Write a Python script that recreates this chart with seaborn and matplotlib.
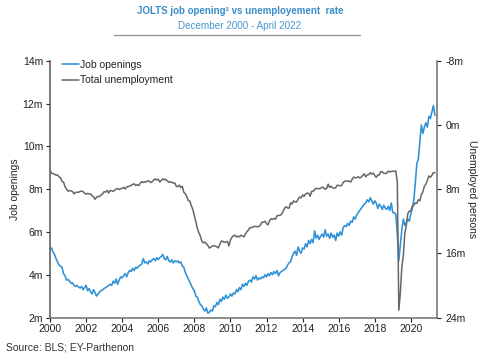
import matplotlib
matplotlib.use("Agg")
import matplotlib.pyplot as plt
import seaborn as sns
import numpy as np
import pandas as pd

# Job openings (millions), monthly Dec 2000 -> Apr 2022
job_openings = [
    5.2,
    5.25, 5.05, 4.95, 4.75, 4.6, 4.45, 4.4, 4.35, 4.05, 3.95, 3.75, 3.78,
    3.7, 3.6, 3.62, 3.5, 3.45, 3.5, 3.42, 3.38, 3.45, 3.3, 3.4, 3.5,
    3.25, 3.35, 3.2, 3.1, 3.3, 3.15, 3.0, 3.1, 3.2, 3.25, 3.3, 3.35,
    3.4, 3.45, 3.5, 3.55, 3.5, 3.7, 3.6, 3.8, 3.55, 3.75, 3.9, 3.85,
    3.95, 4.05, 3.9, 4.1, 4.2, 4.15, 4.3, 4.2, 4.35, 4.3, 4.4, 4.45,
    4.5, 4.75, 4.55, 4.6, 4.5, 4.65, 4.6, 4.7, 4.75, 4.65, 4.8, 4.7,
    4.8, 4.85, 4.95, 4.75, 4.7, 4.85, 4.65, 4.6, 4.7, 4.55, 4.65, 4.6,
    4.65, 4.55, 4.6, 4.4, 4.35, 4.1, 3.95, 3.8, 3.65, 3.5, 3.35, 3.25,
    3.0, 2.95, 2.75, 2.6, 2.55, 2.4, 2.3, 2.45, 2.2, 2.25, 2.35, 2.3,
    2.55, 2.5, 2.7, 2.6, 2.85, 2.75, 2.95, 2.85, 3.05, 2.9, 2.95, 3.1,
    3.0, 3.15, 3.1, 3.3, 3.2, 3.4, 3.3, 3.55, 3.45, 3.6, 3.5, 3.7,
    3.75, 3.65, 3.9, 3.8, 3.95, 3.75, 3.85, 3.8, 3.9, 3.85, 4.0, 3.9,
    4.05, 3.95, 4.1, 4.0, 4.15, 4.05, 4.2, 3.95, 4.1, 4.15, 4.2, 4.25,
    4.3, 4.45, 4.55, 4.6, 4.85, 5.0, 5.1, 4.9, 5.3, 5.1, 5.0, 5.25,
    5.2, 5.45, 5.3, 5.6, 5.45, 5.65, 5.5, 6.05, 5.7, 5.85, 5.65, 5.8,
    5.9, 5.75, 6.1, 5.8, 5.9, 5.7, 5.95, 5.75, 5.85, 5.6, 5.95, 5.8,
    6.0, 5.85, 6.2, 6.3, 6.25, 6.4, 6.3, 6.5, 6.45, 6.7, 6.6, 6.8,
    6.9, 7.0, 7.1, 7.2, 7.3, 7.35, 7.5, 7.4, 7.6, 7.45, 7.3, 7.45,
    7.35, 7.1, 7.3, 7.2, 7.05, 7.25, 7.1, 7.05, 7.2, 7.0, 7.35, 6.9,
    6.9, 6.8, 5.9, 4.65, 5.4, 6.1, 6.6, 6.3, 6.45, 6.6, 6.5, 6.85,
    7.1, 7.5, 8.3, 9.2, 9.4, 10.2, 11.0, 10.6, 10.9, 11.1, 10.9, 11.4,
    11.3, 11.6, 11.9, 11.45,
]

# Total unemployment (millions), monthly Dec 2000 -> Apr 2022
unemployment = [
    5.63,
    6.02, 6.09, 6.14, 6.27, 6.23, 6.48, 6.58, 7.04, 7.14, 7.69, 8.00, 8.26,
    8.18, 8.22, 8.30, 8.60, 8.40, 8.39, 8.39, 8.30, 8.25, 8.31, 8.52, 8.64,
    8.52, 8.62, 8.59, 8.84, 8.96, 9.27, 9.01, 8.90, 8.92, 8.73, 8.58, 8.32,
    8.37, 8.17, 8.49, 8.17, 8.21, 8.29, 8.14, 7.99, 7.93, 8.06, 7.93, 7.93,
    7.78, 7.98, 7.74, 7.67, 7.65, 7.52, 7.41, 7.35, 7.55, 7.45, 7.57, 7.28,
    7.06, 7.18, 7.07, 7.12, 6.98, 7.00, 7.18, 7.09, 6.85, 6.73, 6.87, 6.76,
    7.12, 6.93, 6.73, 6.85, 6.77, 6.98, 7.15, 7.07, 7.17, 7.24, 7.24, 7.65,
    7.69, 7.50, 7.82, 7.64, 8.40, 8.58, 8.94, 9.44, 9.49, 10.07, 10.54, 11.29,
    12.06, 12.90, 13.43, 13.85, 14.50, 14.71, 14.60, 14.81, 15.01, 15.35, 15.22, 15.10,
    15.05, 15.11, 15.20, 15.33, 14.85, 14.47, 14.51, 14.65, 14.58, 14.52, 15.08, 14.35,
    14.01, 13.82, 13.74, 13.96, 13.86, 13.96, 13.76, 13.82, 13.95, 13.59, 13.30, 13.09,
    12.80, 12.81, 12.71, 12.65, 12.66, 12.69, 12.66, 12.47, 12.12, 12.12, 12.01, 12.30,
    12.47, 11.95, 11.69, 11.76, 11.65, 11.75, 11.34, 11.28, 11.27, 11.14, 10.79, 10.40,
    10.20, 10.35, 10.38, 9.70, 9.86, 9.46, 9.61, 9.60, 9.26, 8.99, 9.09, 8.72,
    8.90, 8.61, 8.50, 8.53, 8.88, 8.30, 8.28, 8.04, 7.92, 7.93, 7.95, 7.91,
    7.75, 7.82, 8.03, 7.92, 7.39, 7.79, 7.65, 7.85, 7.90, 7.83, 7.52, 7.53,
    7.59, 7.54, 7.17, 7.03, 6.97, 7.03, 7.00, 7.13, 6.76, 6.50, 6.58, 6.58,
    6.46, 6.61, 6.50, 6.30, 6.09, 6.48, 6.23, 6.19, 5.96, 6.13, 6.01, 6.31,
    6.53, 6.26, 6.23, 5.81, 5.87, 6.01, 6.06, 6.00, 5.76, 5.87, 5.79, 5.75,
    5.80, 5.73, 7.10, 23.09, 20.98, 17.72, 16.31, 13.52, 12.51, 11.05, 10.73, 10.74,
    10.12, 10.01, 9.71, 9.77, 9.32, 9.46, 8.70, 8.32, 7.65, 7.39, 6.92, 6.36,
    6.52, 6.28, 5.95, 5.95,
]

x_ticks = [2000, 2002, 2004, 2006, 2008, 2010, 2012, 2014, 2016, 2018, 2020]
left_ticks = [2, 4, 6, 8, 10, 12, 14]
right_ticks = [-8, 0, 8, 16, 24]

BLUE = "#2F91D6"
GRAY = "#666666"
TITLE_BLUE = "#3A8DC8"
SUB_BLUE = "#4697CE"

sns.set_theme(style="white")
plt.rcParams["font.family"] = ["Liberation Sans", "DejaVu Sans"]

n = len(job_openings)
# Axis shows first observation (Dec 2000) at the "2000" mark
xpos = [2000 + i / 12 for i in range(n)]
df = pd.DataFrame({"x": xpos, "jobs": job_openings, "unemp": unemployment})

fig = plt.figure(figsize=(4.8, 3.64), dpi=100)
ax = fig.add_axes([50 / 480, 1 - 317.5 / 364, (437 - 50) / 480, (317.5 - 60.7) / 364])
ax2 = ax.twinx()

sns.lineplot(data=df, x="x", y="jobs", ax=ax, color=BLUE, lw=1.15, label="Job openings", legend=False)
sns.lineplot(data=df, x="x", y="unemp", ax=ax2, color=GRAY, lw=1.1, label="Total unemployment", legend=False)

ax.set_xlim(2000, 2021.45)
ax.set_ylim(2, 14)
ax2.set_ylim(24, -8)

ax.set_xticks(x_ticks)
ax.set_xticklabels([str(t) for t in x_ticks])
ax.set_yticks(left_ticks)
ax.set_yticklabels([f"{t}m" for t in left_ticks])
ax2.set_yticks(right_ticks)
ax2.set_yticklabels([f"{t}m" for t in right_ticks])

for a in (ax, ax2):
    a.grid(False)
    a.spines["top"].set_visible(False)
    for s in ("left", "right", "bottom"):
        a.spines[s].set_color("#6e6e6e")
        a.spines[s].set_linewidth(1.1)
ax.spines["left"].set_color("#555555")
ax.spines["right"].set_visible(False)
ax2.spines["left"].set_visible(False)
ax2.spines["bottom"].set_visible(False)

ax.tick_params(axis="both", which="major", labelsize=7.5, colors="#222222",
               direction="out", length=3, width=0.8, pad=2, left=True, bottom=True)
ax2.tick_params(axis="y", labelsize=7.5, colors="#222222", direction="out",
                length=3, width=0.8, pad=3, right=True)
for a in (ax, ax2):
    for t in a.get_xticklines() + a.get_yticklines():
        t.set_color("#7a7a7a")

ax.set_xlabel("")
ax.set_ylabel("Job openings", fontsize=7.5, color="#222222", labelpad=2)
ax2.set_ylabel("Unemployed persons", fontsize=7.5, color="#222222", rotation=270, labelpad=8)

h1, l1 = ax.get_legend_handles_labels()
h2, l2 = ax2.get_legend_handles_labels()
leg = ax.legend(h1 + h2, l1 + l2, loc="upper left", bbox_to_anchor=(0.02, 1.02),
                frameon=False, fontsize=7.5, handlelength=1.6, handletextpad=0.15,
                labelspacing=0.55, borderaxespad=0)
for t in leg.get_texts():
    t.set_color("#222222")

fig.text(0.5, 1 - 11.5 / 364, "JOLTS job opening\u00b2 vs unemployement  rate", ha="center", va="center",
         fontsize=7.0, fontweight="bold", color=TITLE_BLUE)
fig.text(0.5, 1 - 25.7 / 364, "December 2000 - April 2022", ha="center", va="center",
         fontsize=7.1, color=SUB_BLUE)
fig.add_artist(plt.Line2D([114 / 480, 360 / 480], [1 - 35 / 364, 1 - 35 / 364],
                          transform=fig.transFigure, color="#9a9a9a", lw=1.0))
fig.text(6 / 480, 1 - 348 / 364, "Source: BLS; EY-Parthenon", ha="left", va="center",
         fontsize=7.5, color="#333333")

fig.savefig("out.png", dpi=100)
